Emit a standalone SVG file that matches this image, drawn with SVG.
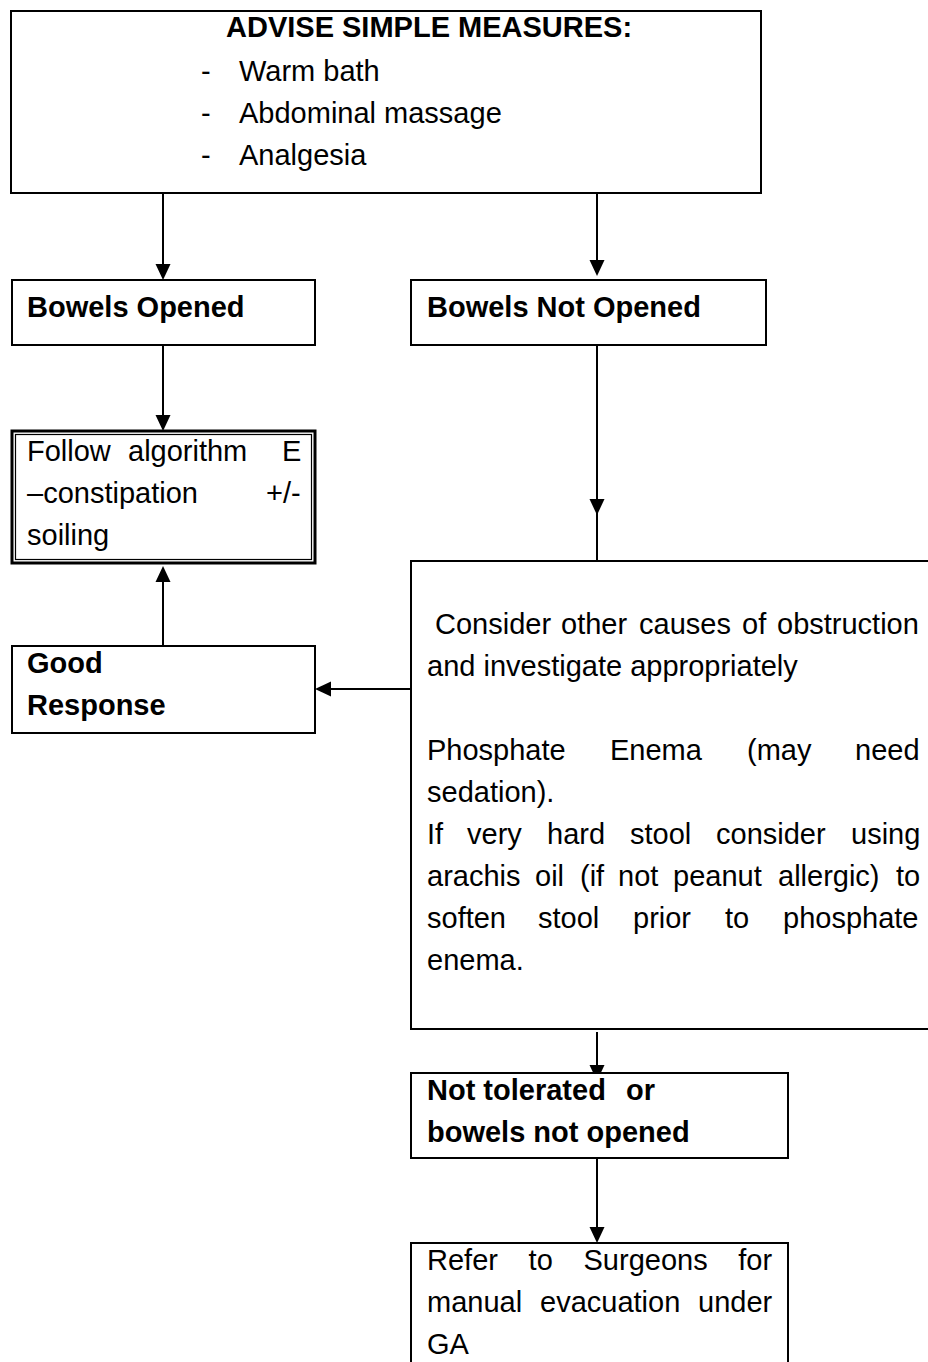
<svg xmlns="http://www.w3.org/2000/svg" width="928" height="1362" viewBox="0 0 928 1362">
<style>
  .box{fill:#fff;stroke:#000;stroke-width:2}
  .t{font-family:"Liberation Sans",Arial,sans-serif;font-size:29px;fill:#000}
  .b{font-weight:bold}
  .ln{stroke:#000;stroke-width:2;fill:none}
</style>
<defs>
  <path id="ah" d="M0,0 L-7.5,-16 L7.5,-16 Z" fill="#000"/>
</defs>
<rect width="928" height="1362" fill="#fff"/>

<g id="connectors">
  <line class="ln" x1="163" y1="193" x2="163" y2="270"/>
  <use href="#ah" transform="translate(163,280)"/>
  <line class="ln" x1="597" y1="193" x2="597" y2="266"/>
  <use href="#ah" transform="translate(597,276)"/>
  <line class="ln" x1="163" y1="345" x2="163" y2="420"/>
  <use href="#ah" transform="translate(163,431)"/>
  <line class="ln" x1="597" y1="345" x2="597" y2="561"/>
  <use href="#ah" transform="translate(597,515)"/>
  <line class="ln" x1="163" y1="646" x2="163" y2="576"/>
  <use href="#ah" transform="translate(163,566) rotate(180)"/>
  <line class="ln" x1="411" y1="689" x2="326" y2="689"/>
  <use href="#ah" transform="translate(315,689) rotate(90)"/>
  <line class="ln" x1="597" y1="1032" x2="597" y2="1072"/>
  <use href="#ah" transform="translate(597,1081)"/>
  <line class="ln" x1="597" y1="1158" x2="597" y2="1232"/>
  <use href="#ah" transform="translate(597,1243)"/>
</g>

<g id="top">
  <rect class="box" x="11" y="11" width="750" height="182"/>
  <text class="t b" x="226" y="37">ADVISE SIMPLE MEASURES:</text>
  <text class="t" x="201" y="81">-</text><text class="t" x="239" y="81">Warm bath</text>
  <text class="t" x="201" y="123">-</text><text class="t" x="239" y="123">Abdominal massage</text>
  <text class="t" x="201" y="165">-</text><text class="t" x="239" y="165">Analgesia</text>
</g>

<g id="opened">
  <rect class="box" x="12" y="280" width="303" height="65"/>
  <text class="t b" x="27" y="317">Bowels Opened</text>
</g>

<g id="notopened">
  <rect class="box" x="411" y="280" width="355" height="65"/>
  <text class="t b" x="427" y="317">Bowels Not Opened</text>
</g>

<g id="follow">
  <rect x="12" y="431" width="303" height="132" fill="#fff" stroke="#000" stroke-width="3"/>
  <rect x="15.5" y="434.5" width="296" height="125" fill="none" stroke="#000" stroke-width="1.2"/>
  <text class="t" y="461"><tspan x="27">Follow</tspan><tspan x="128">algorithm</tspan><tspan x="282">E</tspan></text>
  <text class="t" y="503"><tspan x="27">–constipation</tspan><tspan x="266">+/-</tspan></text>
  <text class="t" x="27" y="545">soiling</text>
</g>

<g id="good">
  <rect class="box" x="12" y="646" width="303" height="87"/>
  <text class="t b" x="27" y="673">Good</text>
  <text class="t b" x="27" y="715">Response</text>
</g>

<g id="consider">
  <rect class="box" x="411" y="561" width="540" height="468"/>
  <text class="t" y="634"><tspan x="435">Consider</tspan><tspan x="561">other</tspan><tspan x="639">causes</tspan><tspan x="742">of</tspan><tspan x="777">obstruction</tspan></text>
  <text class="t" x="427" y="676">and investigate appropriately</text>
  <text class="t" y="760"><tspan x="427">Phosphate</tspan><tspan x="610">Enema</tspan><tspan x="747">(may</tspan><tspan x="855">need</tspan></text>
  <text class="t" x="427" y="802">sedation).</text>
  <text class="t" y="844"><tspan x="427">If</tspan><tspan x="467">very</tspan><tspan x="547">hard</tspan><tspan x="630">stool</tspan><tspan x="716">consider</tspan><tspan x="851">using</tspan></text>
  <text class="t" y="886"><tspan x="427">arachis</tspan><tspan x="535">oil</tspan><tspan x="580">(if</tspan><tspan x="618">not</tspan><tspan x="673">peanut</tspan><tspan x="778">allergic)</tspan><tspan x="896">to</tspan></text>
  <text class="t" y="928"><tspan x="427">soften</tspan><tspan x="538">stool</tspan><tspan x="633">prior</tspan><tspan x="725">to</tspan><tspan x="783">phosphate</tspan></text>
  <text class="t" x="427" y="970">enema.</text>
</g>

<g id="nottolerated">
  <rect class="box" x="411" y="1073" width="377" height="85"/>
  <text class="t b" y="1100"><tspan x="427">Not tolerated</tspan><tspan x="626">or</tspan></text>
  <text class="t b" x="427" y="1142">bowels not opened</text>
</g>

<g id="refer">
  <rect class="box" x="411" y="1243" width="377" height="140"/>
  <text class="t" y="1270"><tspan x="427">Refer</tspan><tspan x="528.6">to</tspan><tspan x="583.5">Surgeons</tspan><tspan x="738.3">for</tspan></text>
  <text class="t" y="1312"><tspan x="427">manual</tspan><tspan x="540">evacuation</tspan><tspan x="698">under</tspan></text>
  <text class="t" x="427" y="1354">GA</text>
</g>
</svg>
